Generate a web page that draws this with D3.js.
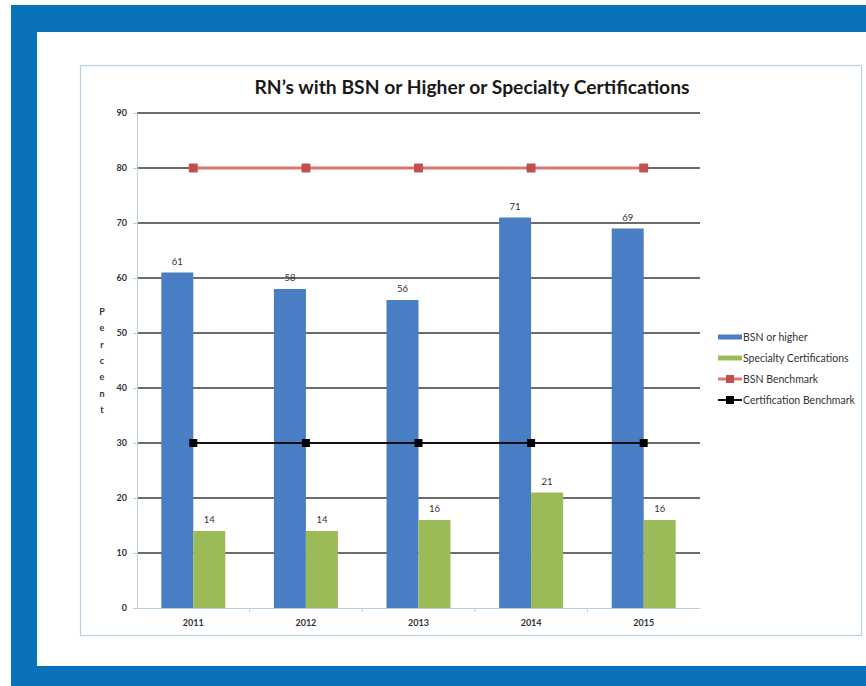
<!DOCTYPE html>
<html>
<head>
<meta charset="utf-8">
<script src="https://cdn.jsdelivr.net/npm/d3@7"></script>
<style>
  html, body { margin: 0; padding: 0; background: #ffffff; }
  svg { display: block; }
  text { font-family: Lato, "Open Sans", "DejaVu Sans", sans-serif; }
</style>
</head>
<body>
<svg id="chart" width="866" height="686"></svg>
<script>
// Chart data
const years = ["2011", "2012", "2013", "2014", "2015"];
const bsnOrHigher = [61, 58, 56, 71, 69];
const specialtyCert = [14, 14, 16, 21, 16];
const bsnBenchmark = [80, 80, 80, 80, 80];
const certBenchmark = [30, 30, 30, 30, 30];
const yTicks = [0, 10, 20, 30, 40, 50, 60, 70, 80, 90];
const legendLabels = ["BSN or higher", "Specialty Certifications", "BSN Benchmark", "Certification Benchmark"];
const titleText = "RN\u2019s with BSN or Higher or Specialty Certifications";
const axisTitle = "Percent";

const colors = {
  frame: "#0a72ba",
  bsn: "#4a7ec4",
  cert: "#9bbb59",
  bsnLine: "#d97773",
  bsnMarker: "#c0504d",
  certLine: "#111111",
  grid: "#3b3b3b",
  text: "#333333",
  box: "#b9cfe2"
};

const svg = d3.select("#chart");

// Page frame
svg.append("rect").attr("x", 11).attr("y", 5).attr("width", 855).attr("height", 681).attr("fill", colors.frame);
svg.append("rect").attr("x", 37).attr("y", 32).attr("width", 829).attr("height", 634).attr("fill", "#ffffff");

// Chart box
svg.append("rect").attr("x", 80.5).attr("y", 65.5).attr("width", 781).attr("height", 570)
  .attr("fill", "#ffffff").attr("stroke", colors.box).attr("stroke-width", 1.2);

// Plot region
const plot = { left: 137, right: 700, top: 113, bottom: 608 };

const x = d3.scaleBand().domain(years).range([plot.left, plot.right]).paddingInner(0).paddingOuter(0);
const barW = 32;
const y = d3.scaleLinear().domain([0, 90]).range([plot.bottom, plot.top]);

// Title
svg.append("text")
  .attr("x", 472).attr("y", 94)
  .attr("text-anchor", "middle")
  .attr("font-size", 19.3).attr("font-weight", "bold")
  .attr("fill", "#1a1a1a")
  .text(titleText);

// Gridlines (skip zero line, drawn as axis)
svg.append("g").selectAll("line")
  .data(yTicks.filter(d => d > 0))
  .join("line")
  .attr("x1", plot.left).attr("x2", plot.right)
  .attr("y1", d => y(d)).attr("y2", d => y(d))
  .attr("stroke", colors.grid).attr("stroke-width", 1.3);

// Y axis
const yAxis = svg.append("g")
  .attr("transform", `translate(${plot.left},0)`)
  .call(d3.axisLeft(y).tickValues(yTicks).tickSize(4).tickPadding(6));
yAxis.select(".domain").attr("stroke", colors.box);
yAxis.selectAll(".tick line").attr("stroke", colors.box);
yAxis.selectAll(".tick text")
  .attr("font-size", 9).attr("font-weight", "bold").attr("fill", colors.text)
  .attr("font-family", "Lato, 'Open Sans', sans-serif");

// X axis
const xAxis = svg.append("g")
  .attr("transform", `translate(0,${plot.bottom})`)
  .call(d3.axisBottom(x).tickSize(0).tickPadding(12));
xAxis.select(".domain").attr("stroke", colors.box);
xAxis.selectAll(".tick text")
  .attr("font-size", 9).attr("font-weight", "bold").attr("fill", colors.text)
  .attr("font-family", "Lato, 'Open Sans', sans-serif");
// Category separators on x axis
svg.append("g").selectAll("line")
  .data(years.slice(1))
  .join("line")
  .attr("x1", d => x(d)).attr("x2", d => x(d))
  .attr("y1", plot.bottom).attr("y2", plot.bottom + 4)
  .attr("stroke", colors.box);

// Y axis title, letters stacked
const yt = svg.append("text")
  .attr("x", 102).attr("y", 315)
  .attr("text-anchor", "middle")
  .attr("font-size", 9).attr("font-weight", "bold").attr("fill", colors.text);
yt.selectAll("tspan")
  .data(axisTitle.split(""))
  .join("tspan")
  .attr("x", 102)
  .attr("dy", (d, i) => i === 0 ? 0 : 16.3)
  .text(d => d);

const center = d => x(d) + x.bandwidth() / 2;

// Bars
const barsG = svg.append("g");
barsG.selectAll("rect.bsn")
  .data(years.map((yr, i) => ({ yr, v: bsnOrHigher[i] })))
  .join("rect")
  .attr("class", "bsn")
  .attr("x", d => center(d.yr) - barW)
  .attr("width", barW)
  .attr("y", d => y(d.v))
  .attr("height", d => y(0) - y(d.v))
  .attr("fill", colors.bsn);
barsG.selectAll("rect.cert")
  .data(years.map((yr, i) => ({ yr, v: specialtyCert[i] })))
  .join("rect")
  .attr("class", "cert")
  .attr("x", d => center(d.yr))
  .attr("width", barW)
  .attr("y", d => y(d.v))
  .attr("height", d => y(0) - y(d.v))
  .attr("fill", colors.cert);

// Value labels
const labelsG = svg.append("g")
  .attr("font-size", 9.5).attr("fill", colors.text).attr("text-anchor", "middle");
labelsG.selectAll("text.bsn")
  .data(years.map((yr, i) => ({ yr, v: bsnOrHigher[i] })))
  .join("text")
  .attr("x", d => center(d.yr) - barW / 2)
  .attr("y", d => y(d.v) - 8)
  .text(d => d.v);
labelsG.selectAll("text.cert")
  .data(years.map((yr, i) => ({ yr, v: specialtyCert[i] })))
  .join("text")
  .attr("x", d => center(d.yr) + barW / 2)
  .attr("y", d => y(d.v) - 8)
  .text(d => d.v);

// Benchmark lines
const line = d3.line().x(d => center(d.yr)).y(d => y(d.v));
const bsnPts = years.map((yr, i) => ({ yr, v: bsnBenchmark[i] }));
const certPts = years.map((yr, i) => ({ yr, v: certBenchmark[i] }));

svg.append("path").datum(bsnPts).attr("d", line)
  .attr("fill", "none").attr("stroke", colors.bsnLine).attr("stroke-width", 3);
svg.append("g").selectAll("rect")
  .data(bsnPts).join("rect")
  .attr("x", d => center(d.yr) - 4.5).attr("y", d => y(d.v) - 4.5)
  .attr("width", 9).attr("height", 9).attr("rx", 1)
  .attr("fill", colors.bsnMarker);

svg.append("path").datum(certPts).attr("d", line)
  .attr("fill", "none").attr("stroke", colors.certLine).attr("stroke-width", 2);
svg.append("g").selectAll("rect")
  .data(certPts).join("rect")
  .attr("x", d => center(d.yr) - 4).attr("y", d => y(d.v) - 4)
  .attr("width", 8).attr("height", 8)
  .attr("fill", "#000000");

// Legend
const legendY = [337, 358, 379, 400];
const legend = svg.append("g");
legendLabels.forEach((lbl, i) => {
  const ly = legendY[i];
  if (i < 2) {
    legend.append("rect").attr("x", 718).attr("y", ly - 2.5).attr("width", 24).attr("height", 5)
      .attr("fill", i === 0 ? colors.bsn : colors.cert);
  } else {
    legend.append("line").attr("x1", 718).attr("x2", 742).attr("y1", ly).attr("y2", ly)
      .attr("stroke", i === 2 ? colors.bsnLine : colors.certLine).attr("stroke-width", i === 2 ? 3 : 2);
    legend.append("rect").attr("x", 726).attr("y", ly - 4).attr("width", 8).attr("height", 8)
      .attr("fill", i === 2 ? colors.bsnMarker : "#000000");
  }
  legend.append("text").attr("x", 743).attr("y", ly + 3.5)
    .attr("font-size", 10.5).attr("fill", colors.text).text(lbl);
});
</script>
</body>
</html>
